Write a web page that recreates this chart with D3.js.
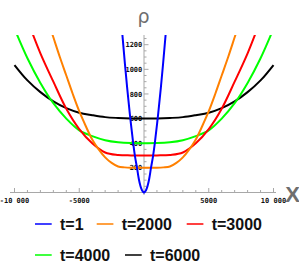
<!DOCTYPE html>
<html><head><meta charset="utf-8">
<script src="https://cdn.jsdelivr.net/npm/d3@7"></script>
<style>html,body{margin:0;padding:0;background:#fff;}svg{display:block;}</style>
</head><body>
<svg id="c" width="299" height="270"></svg>
<script>
// ---- data ----
const seriesNames = ["t=1", "t=2000", "t=3000", "t=4000", "t=6000"];
const seriesColors = ["#0000ff", "#ff8000", "#ff0000", "#00ff00", "#000000"];
const xBlue = [-1750,-1670,-1300,-1060,-835,-705,-540,-400,-280,-200,-120,-50,0,50,120,200,280,400,540,705,835,1060,1300,1670,1750];
const yBlue = [1400,1282,850,605,400,300,200,110,55,30,12,3,0,3,12,30,55,110,200,300,400,605,850,1282,1400];
const xOrange = [-7500,-7000,-6500,-6000,-5500,-5000,-4500,-4000,-3500,-3000,-2500,-2000,-1500,-1000,0,1000,1500,2000,2500,3000,3500,4000,4500,5000,5500,6000,6500,7000,7500];
const yOrange = [1420,1260,1100,950,800,660,540,430,350,285,240,211,204,201,200,201,204,211,240,285,350,430,540,660,800,950,1100,1260,1420];
const xRed = [-9000,-8000,-7000,-6000,-5000,-4000,-3000,-2000,-1000,0,1000,2000,3000,4000,5000,6000,7000,8000,9000];
const yRed = [1400,1130,900,680,515,400,325,305,301,300,301,305,325,400,515,680,900,1130,1400];
const xGreen = [-10000,-9000,-8000,-7000,-6000,-5000,-4000,-3000,-2000,-1000,0,1000,2000,3000,4000,5000,6000,7000,8000,9000,10000];
const yGreen = [1330,1090,890,725,600,505,458,425,408,401,400,401,408,425,458,505,600,725,890,1090,1330];
const xBlack = [-10000,-9000,-8000,-7000,-6000,-5000,-4000,-3000,-2000,-1000,0,1000,2000,3000,4000,5000,6000,7000,8000,9000,10000];
const yBlack = [1035,910,815,740,685,648,628,612,605,601,600,601,605,612,628,648,685,740,815,910,1035];
const xTickValues = [-10000,-5000,5000,10000];
const xTickLabels = ["-10 000","-5000","5000","10 000"];
const yTickValues = [200,400,600,800,1000,1200];
const yTickLabels = ["200","400","600","800","1000","1200"];

const seriesX = [xBlue, xOrange, xRed, xGreen, xBlack];
const seriesY = [yBlue, yOrange, yRed, yGreen, yBlack];

// ---- layout ----
const svg = d3.select("#c");
const x = d3.scaleLinear().domain([-10000, 10000]).range([14.5, 273.5]);
const y = d3.scaleLinear().domain([0, 1200]).range([192.5, 44.7]);
const yTop = 35;

svg.append("defs").append("clipPath").attr("id","pc")
  .append("rect").attr("x", x(-10000)-2).attr("y", yTop).attr("width", x(10000)-x(-10000)+4).attr("height", 170);

// axes
const axisColor = "#a8a8a8";
const g = svg.append("g");
g.append("line").attr("x1", 10).attr("x2", 276).attr("y1", y(0)).attr("y2", y(0)).attr("stroke", axisColor).attr("stroke-width", 1);
g.append("line").attr("x1", x(0)).attr("x2", x(0)).attr("y1", yTop).attr("y2", 195).attr("stroke", axisColor).attr("stroke-width", 1);

const xMinor = d3.range(-10000, 10001, 1000).filter(v => v !== 0);
g.selectAll(".xt").data(xMinor).enter().append("line")
  .attr("x1", d => x(d)).attr("x2", d => x(d))
  .attr("y1", y(0)).attr("y2", d => y(0) - (d % 5000 === 0 ? 4.5 : 2.5))
  .attr("stroke", axisColor).attr("stroke-width", 1);
const yMinor = d3.range(50, 1300, 50);
g.selectAll(".yt").data(yMinor).enter().append("line")
  .attr("y1", d => y(d)).attr("y2", d => y(d))
  .attr("x1", x(0)).attr("x2", d => x(0) + (d % 200 === 0 ? 4.5 : 2.5))
  .attr("stroke", axisColor).attr("stroke-width", 1);

const tickFont = "'DejaVu Sans Mono', monospace";
g.selectAll(".xl").data(xTickValues).enter().append("text")
  .attr("x", d => x(d)).attr("y", 203)
  .attr("text-anchor", "middle").attr("font-family", tickFont).attr("font-weight", "bold")
  .attr("font-size", 7).attr("fill", "#111")
  .text((d, i) => xTickLabels[i]);
g.selectAll(".yl").data(yTickValues).enter().append("text")
  .attr("x", 142.3).attr("y", d => y(d) + 2.6)
  .attr("text-anchor", "end").attr("font-family", tickFont).attr("font-weight", "bold")
  .attr("font-size", 7).attr("fill", "#111")
  .text((d, i) => yTickLabels[i]);

// axis labels
svg.append("text").attr("x", 143.5).attr("y", 23).attr("text-anchor", "middle")
  .attr("font-family", "'DejaVu Sans', sans-serif").attr("font-size", 19).attr("fill", "#6e6e6e").text("ρ");
svg.append("text").attr("x", 292.5).attr("y", 202).attr("text-anchor", "middle")
  .attr("font-family", "'Liberation Sans', Arial, sans-serif").attr("font-weight", "bold").attr("font-size", 22).attr("fill", "#6e6e6e").text("X");

// curves
const line = d3.line().x(d => x(d[0])).y(d => y(d[1])).curve(d3.curveCatmullRom.alpha(0.5));
const cg = svg.append("g").attr("clip-path", "url(#pc)");
const order = [4, 3, 2, 1, 0];
order.forEach(i => {
  const pts = seriesX[i].map((v, j) => [v, seriesY[i][j]]);
  cg.append("path").datum(pts).attr("d", line).attr("fill", "none")
    .attr("stroke", seriesColors[i]).attr("stroke-width", 2);
});

// legend
const legendPos = [[35, 224], [96.7, 224], [186.7, 224], [35, 255], [125, 255]];
const lg = svg.append("g");
seriesNames.forEach((name, i) => {
  const [lx, ly] = legendPos[i];
  lg.append("line").attr("x1", lx).attr("x2", lx + 16.7).attr("y1", ly).attr("y2", ly)
    .attr("stroke", seriesColors[i]).attr("stroke-width", 1.5);
  lg.append("text").attr("x", lx + 25).attr("y", ly + 5.7)
    .attr("font-family", "'Liberation Sans', Arial, sans-serif").attr("font-weight", "bold")
    .attr("font-size", 16).attr("fill", "#111").text(name);
});
</script>
</body></html>
